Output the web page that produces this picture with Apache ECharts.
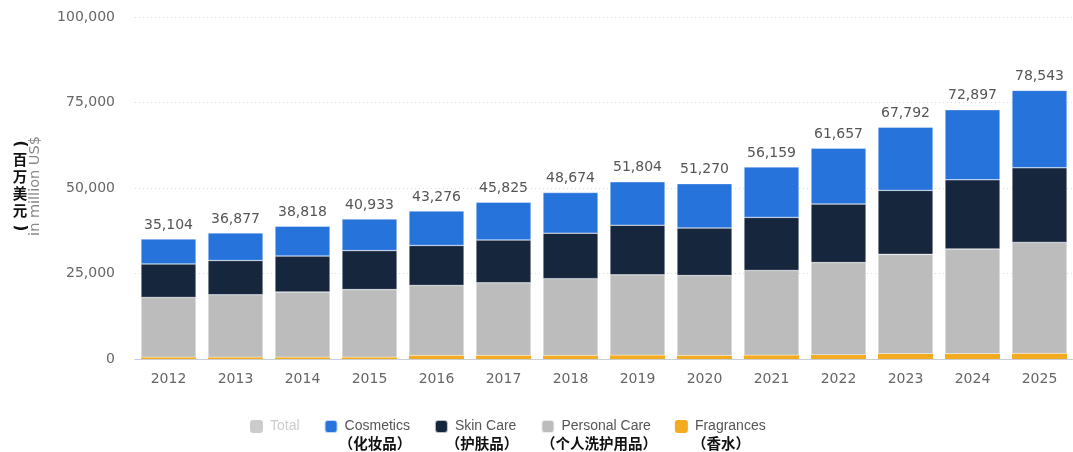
<!DOCTYPE html>
<html>
<head>
<meta charset="utf-8">
<script src="https://cdn.jsdelivr.net/npm/echarts@6/dist/echarts.min.js"></script>
<style>
  html, body { margin: 0; padding: 0; background: #fff; }
  #chart { width: 1073px; height: 452px; }
</style>
</head>
<body>
<div id="chart"></div>
<script>
// Beauty & personal care revenue by segment, in million US$
const years = ['2012', '2013', '2014', '2015', '2016', '2017', '2018', '2019', '2020', '2021', '2022', '2023', '2024', '2025'];
const totals = [35104, 36877, 38818, 40933, 43276, 45825, 48674, 51804, 51270, 56159, 61657, 67792, 72897, 78543];
const fragrances = [500, 500, 500, 500, 1000, 1000, 1000, 1100, 1000, 1100, 1200, 1500, 1500, 1600];
const personalCare = [17500, 18300, 19100, 19800, 20500, 21300, 22500, 23500, 23400, 24800, 27000, 29100, 30700, 32500];
const skinCare = [9800, 10000, 10500, 11400, 11700, 12500, 13300, 14500, 13900, 15500, 17100, 18700, 20200, 21800];
const cosmetics = [7304, 8077, 8718, 9233, 10076, 11025, 11874, 12704, 12970, 14759, 16357, 18492, 20497, 22643];
const yTicks = [0, 25000, 50000, 75000, 100000];

const segmentNames = {
  total: 'Total',
  cosmetics: 'Cosmetics',
  skin: 'Skin Care',
  personal: 'Personal Care',
  fragrances: 'Fragrances'
};
const chineseNames = ['（化妆品）', '（护肤品）', '（个人洗护用品）', '（香水）'];
const unitEn = 'in million US$';
const unitZh = ['百', '万', '美', '元'];

const NUM_FONT = '"DejaVu Sans", sans-serif';
const LEGEND_FONT = '"Liberation Sans", Arial, sans-serif';
const CJK_FONT = '"Noto Sans CJK SC", sans-serif';

const fmt = v => v.toLocaleString('en-US');

const segStyle = (color, border) => ({
  color: color,
  borderColor: 'rgba(255,255,255,0.7)',
  borderWidth: border
});

// vertical Chinese unit: upright characters, parentheses turned to run downwards
const unitZhFont = 'bold 14.5px ' + CJK_FONT;
const parenFont = 'bold 15px ' + NUM_FONT;
const unitZhX = 20;
const unitZhGraphics = [
  {
    type: 'text', x: unitZhX, y: 144, rotation: -Math.PI / 2,
    style: { text: '(', fill: '#111111', font: parenFont, align: 'center', verticalAlign: 'middle' }
  }
];
unitZh.forEach((ch, i) => {
  unitZhGraphics.push({
    type: 'text', x: unitZhX, y: 159 + 17 * i,
    style: { text: ch, fill: '#111111', font: unitZhFont, align: 'center', verticalAlign: 'middle' }
  });
});
unitZhGraphics.push({
  type: 'text', x: unitZhX, y: 228, rotation: -Math.PI / 2,
  style: { text: ')', fill: '#111111', font: parenFont, align: 'center', verticalAlign: 'middle' }
});

const legendSubX = [375, 482, 599, 721];
const legendSubGraphics = chineseNames.map((t, i) => ({
  type: 'text', x: legendSubX[i], y: 443,
  style: { text: t, fill: '#111111', font: 'bold 14.5px ' + CJK_FONT, align: 'center', verticalAlign: 'middle' }
}));

const chart = echarts.init(document.getElementById('chart'), null, { renderer: 'canvas' });

chart.setOption({
  animation: false,
  textStyle: { fontFamily: NUM_FONT },
  grid: { left: 135, right: -8, top: 17, bottom: 93, containLabel: false },
  legend: {
    left: 245,
    top: 414,
    icon: 'roundRect',
    itemWidth: 13,
    itemHeight: 13,
    itemGap: 24,
    inactiveColor: '#cccccc',
    data: [segmentNames.total, segmentNames.cosmetics, segmentNames.skin, segmentNames.personal, segmentNames.fragrances],
    selected: { [segmentNames.total]: false },
    textStyle: { fontFamily: LEGEND_FONT, fontSize: 14, color: '#555555', padding: [0, 0, 0, 2] }
  },
  xAxis: {
    type: 'category',
    data: years,
    axisTick: { show: false },
    axisLine: { lineStyle: { color: '#c9ced6', width: 1 } },
    axisLabel: { color: '#666666', fontSize: 14, margin: 13, fontFamily: NUM_FONT }
  },
  yAxis: {
    type: 'value',
    min: yTicks[0],
    max: yTicks[yTicks.length - 1],
    interval: yTicks[1] - yTicks[0],
    axisLine: { show: false },
    axisTick: { show: false },
    axisLabel: { color: '#666666', fontSize: 14, margin: 20, fontFamily: NUM_FONT, formatter: v => fmt(v) },
    splitLine: { lineStyle: { color: '#d9d9d9', type: [1, 3], width: 1 } }
  },
  series: [
    {
      name: segmentNames.total,
      type: 'bar',
      data: totals,
      barWidth: 55,
      itemStyle: { color: '#cccccc' }
    },
    {
      name: segmentNames.fragrances,
      type: 'bar',
      stack: 'segments',
      data: fragrances,
      barWidth: 55,
      itemStyle: segStyle('#f5ab1f', 0)
    },
    {
      name: segmentNames.personal,
      type: 'bar',
      stack: 'segments',
      data: personalCare,
      barWidth: 55,
      itemStyle: segStyle('#bcbcbc', 0.5)
    },
    {
      name: segmentNames.skin,
      type: 'bar',
      stack: 'segments',
      data: skinCare,
      barWidth: 55,
      itemStyle: segStyle('#15263d', 0.5)
    },
    {
      name: segmentNames.cosmetics,
      type: 'bar',
      stack: 'segments',
      data: cosmetics,
      barWidth: 55,
      itemStyle: segStyle('#2773dc', 0.5),
      label: {
        show: true,
        position: 'top',
        distance: 7,
        color: '#555555',
        fontSize: 14,
        fontFamily: NUM_FONT,
        formatter: p => fmt(totals[p.dataIndex])
      }
    }
  ],
  graphic: [
    {
      type: 'text',
      x: 35,
      y: 186,
      rotation: Math.PI / 2,
      style: {
        text: unitEn,
        fill: '#888888',
        font: '14.5px ' + NUM_FONT,
        align: 'center',
        verticalAlign: 'middle'
      }
    }
  ].concat(unitZhGraphics, legendSubGraphics)
});
</script>
</body>
</html>
